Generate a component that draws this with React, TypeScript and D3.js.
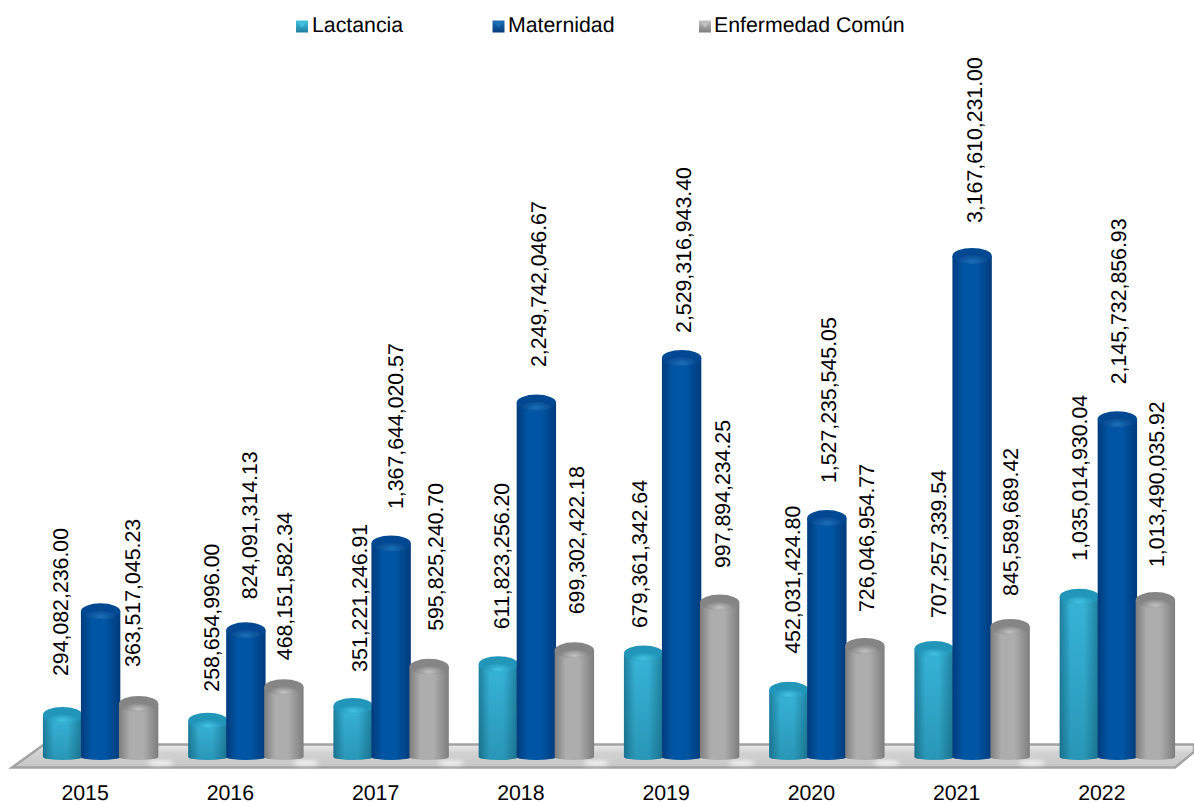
import React from "react";
import * as d3 from "d3";

const years = ["2015", "2016", "2017", "2018", "2019", "2020", "2021", "2022"];
const seriesNames = ["Lactancia", "Maternidad", "Enfermedad Común"];
const lactancia = [294082236.0, 258654996.0, 351221246.91, 611823256.2, 679361342.64, 452031424.8, 707257339.54, 1035014930.04];
const maternidad = [943000000, 824091314.13, 1367644020.57, 2249742046.67, 2529316943.4, 1527235545.05, 3167610231.0, 2145732856.93];
const enfermedad = [363517045.23, 468151582.34, 595825240.7, 699302422.18, 997894234.25, 726046954.77, 845589689.42, 1013490035.92];
const hiddenLabels = ["Maternidad-2015"];

// hand-placed data-label nudges, as in the source chart (label layout only)
const labelDx = [
  [-1.5, 4.25, 7, 3.75, -3.5, 3.75, 5, 0.25],
  [0, 4.25, 5, 2.75, 2.5, 2.25, 2.5, 1.75],
  [-5.5, 1.25, 7, 2.75, 3.5, 2.25, 1, 1.75],
];
const labelGap = [
  [31, 21, 26, 27, 17.5, 28, 23, 28],
  [0, 23, 26.5, 27.6, 17, 27, 25, 27],
  [29, 19, 28, 28, 26.6, 26, 23, 25],
];

const W = 1194, H = 803;
const values = [lactancia, maternidad, enfermedad];
const pal = [
  { id: "l", edge: "#1f7f9e", mid: "#36b4d8", top: "#2296b9", hi: "#43c3e3", tint: 0.22 },
  { id: "m", edge: "#063b7c", mid: "#0055a4", top: "#064a92", hi: "#1a6fb8", tint: 0 },
  { id: "g", edge: "#7d7d7d", mid: "#adadad", top: "#858585", hi: "#c2c2c2", tint: 0 },
];

const x0 = d3.scaleBand<string>().domain(years).range([28, 1190]);
const x1 = d3.scaleBand<string>().domain(seriesNames).range([-57, 57]);
const y = d3.scaleLinear().domain([0, 3167610231]).range([762, 256]);
const baseY = 757;
const ryTop = 8;
const ryBottom = 3;
const fmt = d3.format(",.2f");
const FONT = "'Liberation Sans', Arial, sans-serif";
const FS = 21.3;
const legendMarkX = [296, 492.5, 699];
const legendTextX = [312, 508, 714];

export default function App() {
  const rx = x1.bandwidth() / 2 + 0.7;
  const center = (yr: string) => (x0(yr) as number) + x0.bandwidth() / 2;
  const lx = (j: number, i: number) => center(years[i]) + (x1(seriesNames[j]) as number) + x1.bandwidth() / 2;
  return (
    <svg width={W} height={H} viewBox={`0 0 ${W} ${H}`} style={{ position: "absolute", left: 0, top: 0, background: "#fff" }} fontFamily={FONT} textRendering="geometricPrecision">
      <defs>
        {pal.map((p) => (
          <React.Fragment key={p.id}>
            <linearGradient id={`b-${p.id}`} x1="0" x2="1" y1="0" y2="0">
              <stop offset="0" stopColor={p.edge} />
              <stop offset="0.28" stopColor={p.mid} />
              <stop offset="0.62" stopColor={p.mid} />
              <stop offset="1" stopColor={p.edge} />
            </linearGradient>
            <radialGradient id={`t-${p.id}`} cx="0.5" cy="0.82" r="0.55">
              <stop offset="0" stopColor={p.hi} />
              <stop offset="0.7" stopColor={p.top} />
              <stop offset="1" stopColor={p.top} />
            </radialGradient>
            <linearGradient id={`lg-${p.id}`} x1="0" x2="0" y1="0" y2="1">
              <stop offset="0" stopColor={p.hi} />
              <stop offset="1" stopColor={p.edge} />
            </linearGradient>
          </React.Fragment>
        ))}
        <linearGradient id="shade" x1="0" x2="0" y1="0" y2="1">
          <stop offset="0" stopColor="#0b4a60" stopOpacity="0" />
          <stop offset="1" stopColor="#0b4a60" stopOpacity="0.28" />
        </linearGradient>
        <linearGradient id="floor" x1="0" x2="0" y1="0" y2="1">
          <stop offset="0" stopColor="#ececec" />
          <stop offset="0.35" stopColor="#d2d2d2" />
          <stop offset="1" stopColor="#c6c6c6" />
        </linearGradient>
        <filter id="soft" x="-5%" y="-5%" width="110%" height="110%">
          <feGaussianBlur stdDeviation="0.45" />
        </filter>
        <filter id="glow" x="-60%" y="-200%" width="220%" height="500%">
          <feGaussianBlur stdDeviation="2" />
        </filter>
      </defs>

      {/* floor */}
      <g filter="url(#soft)">
        <path d="M12,767.5 L44,744.5 L1194,744.5 L1194,752 L1175,767.5 Z" fill="url(#floor)" stroke="#a2a2a2" strokeWidth={2.4} />
      </g>
      {years.slice(0, -1).map((yr) => (
        <ellipse key={yr} cx={center(yr) + 60} cy={763} rx={13} ry={2} fill="#fff" filter="url(#glow)" />
      ))}

      {/* bars */}
      {years.map((yr, i) => (
        <g key={yr} filter="url(#soft)">
          {seriesNames.map((_, j) => {
            const cx = lx(j, i);
            const yt = y(values[j][i]);
            const p = pal[j];
            const body = `M${cx - rx},${yt} L${cx - rx},${baseY} A${rx},${ryBottom} 0 0 0 ${cx + rx},${baseY} L${cx + rx},${yt} Z`;
            return (
              <g key={j}>
                <path d={body} fill={`url(#b-${p.id})`} />
                {p.tint > 0 && <path d={body} fill="url(#shade)" />}
                <ellipse cx={cx} cy={yt} rx={rx} ry={ryTop} fill={`url(#t-${p.id})`} />
              </g>
            );
          })}
        </g>
      ))}

      {/* data labels */}
      {years.map((yr, i) =>
        seriesNames.map((s, j) => {
          if (hiddenLabels.includes(`${s}-${yr}`)) return null;
          const tx = lx(j, i) + labelDx[j][i];
          const ty = y(values[j][i]) - ryTop - labelGap[j][i];
          return (
            <text key={s + yr} transform={`translate(${tx},${ty}) rotate(-90)`} fontSize={FS} fill="#000" dominantBaseline="central">
              {fmt(values[j][i])}
            </text>
          );
        })
      )}

      {/* x labels */}
      {years.map((yr) => (
        <text key={yr} x={center(yr) - 15.5} y={800} fontSize={FS} textAnchor="middle" fill="#000">
          {yr}
        </text>
      ))}

      {/* legend */}
      {seriesNames.map((s, j) => {
        const m = legendMarkX[j];
        return (
          <g key={s}>
            <rect x={m} y={20.5} width={12} height={12} fill={`url(#lg-${pal[j].id})`} />
            <path d={`M${m + 2},${22.5} h8 l-4,5 Z`} fill={pal[j].hi} />
            <text x={legendTextX[j]} y={32} fontSize={FS} fill="#000">{s}</text>
          </g>
        );
      })}
    </svg>
  );
}
